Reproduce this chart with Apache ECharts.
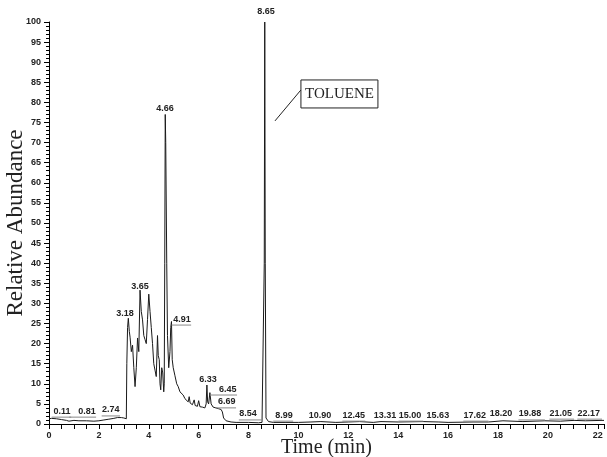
<!DOCTYPE html>
<html><head><meta charset="utf-8">
<script src="https://cdn.jsdelivr.net/npm/echarts@6/dist/echarts.min.js"></script>
<style>html,body{margin:0;padding:0;background:#fff}#c{width:607px;height:457px}</style>
</head><body><div id="c"></div>
<script>
// Chromatogram trace (time in min, relative abundance %)
const times = [0.0,0.1,0.3,0.5,0.7,0.8,1.0,1.2,1.5,1.8,2.0,2.2,2.4,2.6,2.74,2.9,3.0,3.1,3.12,3.15,3.18,3.22,3.25,3.3,3.35,3.4,3.45,3.5,3.55,3.6,3.65,3.7,3.75,3.8,3.85,3.9,3.95,4.0,4.05,4.1,4.15,4.2,4.25,4.3,4.35,4.38,4.42,4.45,4.48,4.52,4.56,4.6,4.62,4.64,4.66,4.68,4.72,4.75,4.8,4.85,4.88,4.91,4.94,4.98,5.05,5.12,5.18,5.25,5.38,5.45,5.58,5.62,5.66,5.75,5.82,5.86,5.95,6.0,6.05,6.15,6.25,6.3,6.33,6.36,6.4,6.45,6.5,6.58,6.69,6.8,6.9,6.95,7.0,7.1,7.3,7.5,8.0,8.4,8.54,8.6,8.63,8.65,8.67,8.7,8.75,8.8,9.0,9.5,10.0,10.5,10.9,11.5,12.0,12.45,13.0,13.31,14.0,15.0,15.63,16.0,17.0,17.62,18.2,19.0,19.88,20.5,21.05,21.5,22.17,22.25];
const abundance = [1.3,1.4,1.3,1.1,0.9,0.7,0.9,0.8,0.8,0.7,0.8,1.0,1.2,1.4,1.6,1.6,1.5,1.3,15,24,26.3,23,21.6,18,19.6,14,9.3,14,21.4,18,33.3,28,25.9,22,21,20,26,32.3,28,24,20,15,13.4,11.8,22,17,16,10,8.5,14,12.7,8,10,40,77,70,40,22,14,18,24,25.5,16,14,12,10,9.3,8,7.2,6.3,5.5,6.8,5.2,4.8,6.0,4.6,4.4,5.8,4.3,4.2,4.0,5,9.7,5.5,5.0,7.8,5.0,4.2,4.0,3.8,3.6,3.0,1.5,0.8,0.5,0.4,0.4,0.3,0.4,0.5,40,100,40,1.5,1.8,0.6,0.4,0.4,0.4,0.5,0.6,0.4,0.5,0.6,0.4,0.6,0.5,0.6,0.5,0.4,0.5,0.5,0.8,0.6,0.8,0.7,0.9,0.8,0.9,0.9];

// Peak annotations
const peakLabels = ['0.11','0.81','2.74','3.18','3.65','4.66','4.91','6.33','6.45','6.69','8.54','8.65','8.99','10.90','12.45','13.31','15.00','15.63','17.62','18.20','19.88','21.05','22.17'];
const peakTimes  = [0.11,0.81,2.74,3.18,3.65,4.66,4.91,6.33,6.45,6.69,8.54,8.65,8.99,10.90,12.45,13.31,15.00,15.63,17.62,18.20,19.88,21.05,22.17];
const peakValues = [1.4,0.8,1.6,26.3,33.3,77,25.5,9.7,7.8,4.0,0.4,100,0.4,0.6,0.6,0.6,0.6,0.5,0.5,0.8,0.8,0.9,0.9];
const labelTimes = [0.52,1.52,2.48,3.05,3.65,4.65,5.33,6.37,7.17,7.13,7.98,8.70,9.42,10.86,12.22,13.47,14.47,15.59,17.07,18.12,19.28,20.52,21.64];
const labelValues= [3.2,3.2,3.5,27.4,34.3,78.6,26.1,11.0,8.7,5.5,2.5,102.5,2.2,2.2,2.2,2.2,2.2,2.2,2.2,2.5,2.5,2.7,2.7];

// Compound annotation
const compoundName = 'TOLUENE';
const compoundBoxAnchor = [10.1, 82.1];   // left-middle of box
const compoundLeader = [[9.06, 75.4], [10.1, 83.1]];

const xTicks = [0,2,4,6,8,10,12,14,16,18,20,22];

const chart = echarts.init(document.getElementById('c'), null, {renderer:'canvas'});
const tickFont = {fontFamily:'Liberation Sans, Arial, sans-serif', fontWeight:'bold', fontSize:9, color:'#222'};
const serif = 'Liberation Serif, Times New Roman, serif';

const traceData = times.map((t,i)=>[t, abundance[i]]);
const labelData = peakLabels.map((s,i)=>[labelTimes[i], labelValues[i], peakTimes[i], peakValues[i], s]);

chart.setOption({
  animation:false,
  grid:{left:49,right:3,top:22,bottom:33,containLabel:false,outerBoundsMode:'none'},
  xAxis:{type:'value',min:0,max:22.25,interval:2,
    name:'Time (min)',nameLocation:'middle',nameGap:14,nameMoveOverlap:false,
    nameTextStyle:{fontFamily:serif,fontSize:20,color:'#222'},
    axisLine:{lineStyle:{color:'#000',width:1}},
    axisTick:{show:true,length:5,lineStyle:{color:'#000'}},
    minorTick:{show:true,splitNumber:4,length:5,lineStyle:{color:'#000'}},
    splitLine:{show:false},
    axisLabel:Object.assign({margin:7,formatter:v=>xTicks.indexOf(v)>=0?String(v):''},tickFont)
  },
  yAxis:{type:'value',min:0,max:100,interval:5,
    name:'Relative Abundance',nameLocation:'middle',nameGap:22,nameMoveOverlap:false,
    nameTextStyle:{fontFamily:serif,fontSize:23,color:'#222'},
    axisLine:{show:true,lineStyle:{color:'#000',width:1}},
    axisTick:{show:true,length:5,lineStyle:{color:'#000'}},
    minorTick:{show:true,splitNumber:5,length:3,lineStyle:{color:'#000'}},
    splitLine:{show:false},
    axisLabel:Object.assign({margin:8},tickFont)
  },
  series:[
    {type:'line',data:traceData,symbol:'none',lineStyle:{color:'#1a1a1a',width:1},z:3},
    {type:'custom',data:labelData,clip:false,z:4,
      renderItem:function(params,api){
        const p=api.coord([api.value(0),api.value(1)]);
        const pk=api.coord([api.value(2),api.value(3)]);
        const txt=labelData[params.dataIndex][4];
        const w=txt.length*4.6;
        const children=[{type:'text',style:{text:txt,x:p[0],y:p[1],align:'center',verticalAlign:'middle',
          font:'bold 9px "Liberation Sans", Arial, sans-serif',fill:'#222'}}];
        if(Math.abs(p[0]-pk[0])>4){
          const yb=p[1]+6;
          const x1=Math.min(pk[0],p[0]-w/2), x2=Math.max(pk[0],p[0]+w/2);
          children.push({type:'line',shape:{x1:x1,y1:yb,x2:x2,y2:yb},style:{stroke:'#888',lineWidth:1}});
        }
        return {type:'group',children:children};
      }
    },
    {type:'custom',data:[compoundBoxAnchor],clip:false,z:5,
      renderItem:function(params,api){
        const a=api.coord([api.value(0),api.value(1)]);
        const l0=api.coord(compoundLeader[0]), l1=api.coord(compoundLeader[1]);
        const bw=77,bh=28;
        return {type:'group',children:[
          {type:'line',shape:{x1:l0[0],y1:l0[1],x2:l1[0],y2:l1[1]},style:{stroke:'#222',lineWidth:1}},
          {type:'rect',shape:{x:a[0],y:a[1]-bh/2,width:bw,height:bh},style:{fill:'#fff',stroke:'#222',lineWidth:1}},
          {type:'text',style:{text:compoundName,x:a[0]+bw/2,y:a[1],align:'center',verticalAlign:'middle',
            font:'15px "Liberation Serif", "Times New Roman", serif',fill:'#222'}}
        ]};
      }
    }
  ]
});
</script></body></html>
